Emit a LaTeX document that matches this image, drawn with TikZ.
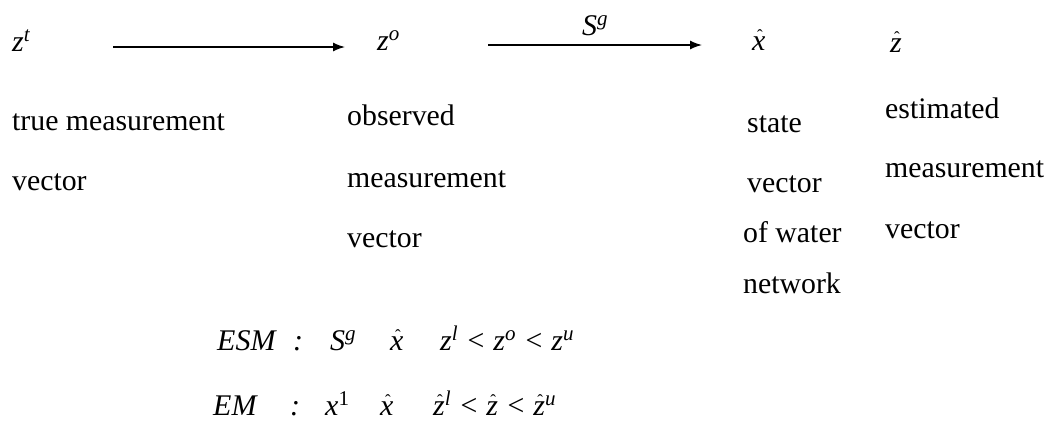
\documentclass[tikz,border=0pt]{standalone}
\usepackage{fontspec}
\setmainfont{Liberation Serif}
\usetikzlibrary{arrows.meta}

\newsavebox\hatbox
\newcommand\hatit[1]{\leavevmode\sbox\hatbox{#1}%
  \rlap{\hbox to\wd\hatbox{\hss\kern2pt\raisebox{9pt}{\fontsize{17}{17}\selectfont\upshape\char"02C6}\hss}}\usebox\hatbox}

\begin{document}
\begin{tikzpicture}[x=1pt, y=-1pt,
    word/.style={anchor=base west, inner sep=0pt, font=\fontsize{29.8}{36}\selectfont},
    sym/.style={anchor=base west, inner sep=0pt, font=\fontsize{30}{36}\selectfont\itshape},
    flow/.style={-{Latex[length=12pt,width=9pt]}, line width=1.4pt}
  ]
  \useasboundingbox (0,0) rectangle (1049,424);

  % the four vectors
  \node[sym] (zt) at (12,51) {z\textsuperscript{t}};
  \node[sym] (zo) at (377,50) {z\textsuperscript{o}};
  \node[sym] (xhat) at (752,50) {\hatit{x}};
  \node[sym] (zhat) at (890,52) {\hatit{z}};

  \draw[flow] ([shift={(83pt,4pt)}]zt.base east) -- ([shift={(-32pt,3pt)}]zo.base west);
  \draw[flow] ([shift={(88pt,5pt)}]zo.base east) -- ([shift={(-50pt,5pt)}]xhat.base west)
    node[sym, anchor=base, midway, yshift=10pt] (sg) {S\textsuperscript{g}};

  % descriptions
  \node[word] (true1) at (12,130) {true measurement};
  \node[word] (true2) at (12,190) {vector};

  \node[word] (obs1) at (347,125) {observed};
  \node[word] (obs2) at (347,187) {measurement};
  \node[word] (obs3) at (347,247) {vector};

  \node[word] (state1) at (747,132) {state};
  \node[word] (state2) at (747,192) {vector};
  \node[word] (state3) at (743,242) {of water};
  \node[word] (state4) at (743,293) {network};

  \node[word] (est1) at (885,118) {estimated};
  \node[word] (est2) at (885,177) {measurement};
  \node[word] (est3) at (885,238) {vector};

  % models
  \node[sym] (esm) at (217,350) {ESM};
  \node[sym] (esmcolon) at (293,350) {:};
  \node[sym] (esmS) at (330,350) {S\textsuperscript{g}};
  \node[sym] (esmx) at (390,350) {\hatit{x}};
  \node[sym] (esmz) at (440,350) {z\textsuperscript{l} < z\textsuperscript{o} < z\textsuperscript{u}};

  \node[sym] (em) at (213,415) {EM};
  \node[sym] (emcolon) at (290,415) {:};
  \node[sym] (emx) at (325,415) {x\textsuperscript{\upshape 1}};
  \node[sym] (emxhat) at (380,415) {\hatit{x}};
  \node[sym] (emz) at (433,415) {\hatit{z}\textsuperscript{l} < \hatit{z} < \hatit{z}\textsuperscript{u}};

\end{tikzpicture}
\end{document}
